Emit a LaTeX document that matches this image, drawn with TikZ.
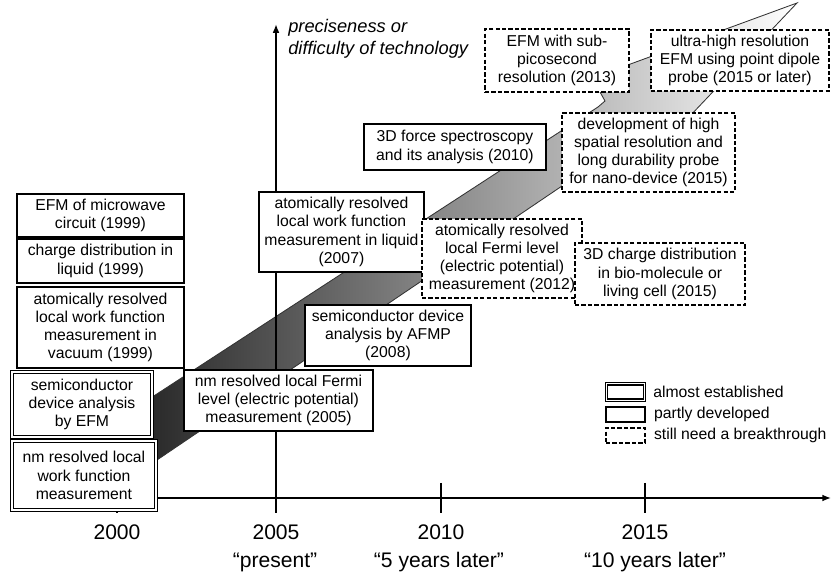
\documentclass[tikz,border=0pt]{standalone}
\usepackage{fontspec}
\setmainfont{Liberation Sans}
\usetikzlibrary{arrows.meta,positioning}
\definecolor{bandedge}{HTML}{333333}
\tikzset{>={Latex[length=2.2mm,width=1.7mm]},
  axis/.style={->,line width=1.5pt},
  tick/.style={line width=1.3pt},
  yearlabel/.style={font=\fontsize{15}{18}\selectfont,inner sep=0pt},
  stage/.style={fill=white,align=center,inner sep=1pt,font=\fontsize{11.2}{13}\selectfont},
  established/.style={stage,draw,double,double distance=1.2pt,line width=.8pt},
  partly/.style={stage,draw,line width=1.1pt},
  breakthrough/.style={stage,draw,line width=1.1pt,dash pattern=on 3pt off 1.6pt},
  keytext/.style={font=\fontsize{11.2}{13}\selectfont,inner sep=0pt,anchor=west}}
\begin{document}
\begin{tikzpicture}[x=1cm,y=1cm]
\useasboundingbox (0,0) rectangle (20.8,14.4);
% shaded band, dark at the old end, broken near 2012 and fading to the tip
\shade[left color=black!85,right color=white,draw=bandedge,line width=.6pt]
  (3.5,4.275)--(14.95,11.725)--(15.125,11.875)--(15,12.1)--(15.625,12.75)
  --(19.925,14.325)--(17.25,11.5)--(14.05,9.75)--(3.5,2.6125)--cycle;
% axes
\coordinate (xstart) at (0.25,1.95);
\coordinate (xend) at (20.78,1.95);
\coordinate (ystart) at (6.9,1.575);
\coordinate (yend) at (6.9,13.8);
\draw[axis] (xstart)--(xend);
\draw[axis] (ystart)--(yend);
\node[anchor=north west,align=left,inner sep=0pt,
  font=\fontsize{13}{15.6}\selectfont\itshape] (ylab) at (7.2,13.92)
  {preciseness or\\difficulty of technology};
\foreach \x/\yr in {2.925/2000,11.025/2010,16.125/2015}
  \draw[tick] (\x,2.325)--(\x,1.575);
\foreach \x/\yr in {2.925/2000,6.9/2005,11.025/2010,16.125/2015}
  \node[yearlabel,anchor=base] (yr\yr) at (\x,0.9) {\yr};
\foreach \x/\nm/\lab in {6.875/now/{“present”},10.975/five/{“5 years later”},16.375/ten/{“10 years later”}}
  \node[yearlabel,anchor=base] (when\nm) at (\x,0.2) {\lab};
% before 2005
\node[partly,minimum width=4.175cm,minimum height=1.075cm] (efmwave) at (2.5125,9.0125)
  {EFM of microwave\\circuit (1999)};
\node[partly,minimum width=4.175cm,minimum height=1.1cm] (chargeliq) at (2.5125,7.875)
  {charge distribution in\\liquid (1999)};
\node[partly,minimum width=4.175cm,minimum height=2.025cm] (workvac) at (2.5125,6.2125)
  {atomically resolved\\local work function\\measurement in\\vacuum (1999)};
\node[established,minimum width=3.5cm,minimum height=1.62cm] (semiefm) at (2.05,4.2875)
  {semiconductor\\device analysis\\by EFM};
\node[established,minimum width=3.6cm,minimum height=1.72cm] (nmwork) at (2.1,2.5125)
  {nm resolved local\\work function\\measurement};
% 2005 to 2010
\node[partly,minimum width=4.725cm,minimum height=1.525cm] (nmfermi) at (6.9625,4.3875)
  {nm resolved local Fermi\\level (electric potential)\\measurement (2005)};
\node[partly,minimum width=4.15cm,minimum height=1.525cm] (afmp) at (9.7,6.0125)
  {semiconductor device\\analysis by AFMP\\(2008)};
\node[partly,minimum width=4.125cm,minimum height=2cm] (workliq) at (8.5375,8.6)
  {atomically resolved\\local work function\\measurement in liquid\\(2007)};
\node[partly,minimum width=4.55cm,minimum height=1.15cm] (force3d) at (11.375,10.725)
  {3D force spectroscopy\\and its analysis (2010)};
% still open
\node[breakthrough,minimum width=4cm,minimum height=1.975cm] (atomfermi) at (12.55,7.9375)
  {atomically resolved\\local Fermi level\\(electric potential)\\measurement (2012)};
\node[breakthrough,minimum width=4.25cm,minimum height=1.55cm] (charge3d) at (16.5,7.55)
  {3D charge distribution\\in bio-molecule or\\living cell (2015)};
\node[breakthrough,minimum width=4.325cm,minimum height=1.975cm] (probe) at (16.2125,10.5875)
  {development of high\\spatial resolution and\\long durability probe\\for nano-device (2015)};
\node[breakthrough,minimum width=3.6cm,minimum height=1.575cm] (subps) at (13.925,12.8875)
  {EFM with sub-\\picosecond\\resolution (2013)};
\node[breakthrough,minimum width=4.45cm,minimum height=1.525cm] (dipole) at (18.5,12.8875)
  {ultra-high resolution\\EFM using point dipole\\probe (2015 or later)};
% legend
\node[established,minimum width=.95cm,minimum height=.42cm] (keydone) at (15.6375,4.6) {};
\node[partly,minimum width=.975cm,minimum height=.38cm] (keypart) at (15.6375,4.0375) {};
\node[breakthrough,minimum width=.975cm,minimum height=.38cm] (keyopen) at (15.6375,3.5125) {};
\node[keytext,right=2mm of keydone] (keydonetext) {almost established};
\node[keytext,right=2mm of keypart] (keyparttext) {partly developed};
\node[keytext,right=2mm of keyopen] (keyopentext) {still need a breakthrough};
\end{tikzpicture}
\end{document}
